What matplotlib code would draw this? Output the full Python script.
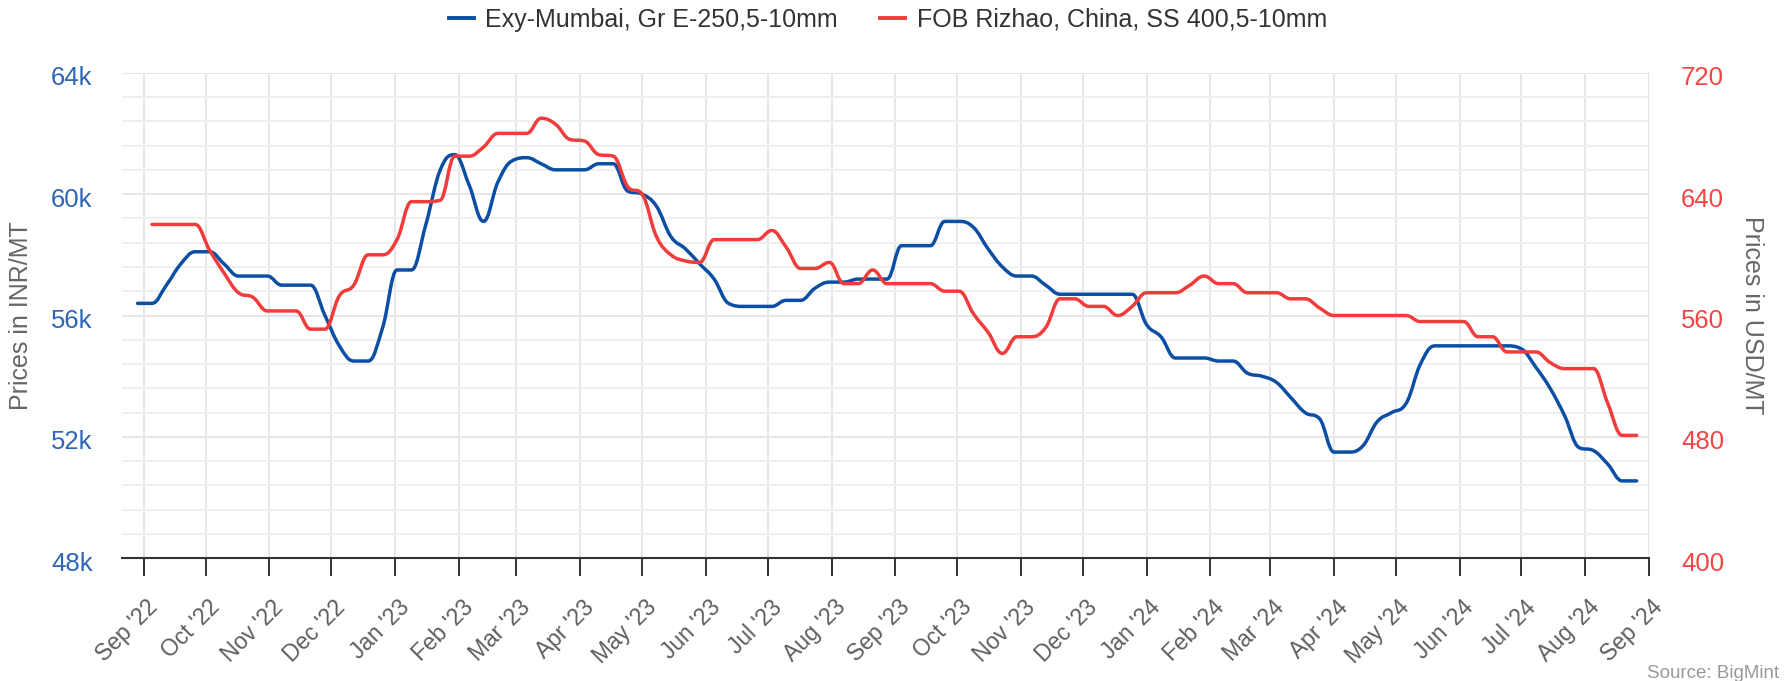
import numpy as np
import pandas as pd
import matplotlib
matplotlib.use('Agg')
import matplotlib.pyplot as plt
import matplotlib.dates as mdates
from matplotlib.path import Path
from matplotlib.patches import PathPatch
from matplotlib.lines import Line2D
from matplotlib.ticker import MultipleLocator, FuncFormatter
from matplotlib.transforms import ScaledTranslation

plt.rcParams['font.family'] = ['Liberation Sans', 'DejaVu Sans']

# ---------------- data ----------------
first_week = '2022-08-29'          # weekly assessments (Mondays)
n_weeks = 105

series_names = ['Exy-Mumbai, Gr E-250,5-10mm', 'FOB Rizhao, China, SS 400,5-10mm']

# Exy-Mumbai, INR/MT (thousands), one value per week from 29 Aug 2022
mumbai_inr_k = [
    56.4, 56.4, 57.0, 57.7, 58.1, 58.1, 57.7, 57.3, 57.3, 57.3,
    57.0, 57.0, 57.0, 56.0, 55.0, 54.5, 54.5, 55.6, 57.5, 57.5,
    59.0, 60.8, 61.3, 60.3, 59.1, 60.4, 61.1, 61.2, 61.0, 60.8,
    60.8, 60.8, 61.0, 61.0, 60.1, 60.0, 59.6, 58.6, 58.2, 57.7,
    57.2, 56.4, 56.3, 56.3, 56.3, 56.5, 56.5, 56.9, 57.1, 57.1,
    57.2, 57.2, 57.2, 58.3, 58.3, 58.3, 59.1, 59.1, 58.9, 58.2,
    57.6, 57.3, 57.3, 57.0, 56.7, 56.7, 56.7, 56.7, 56.7, 56.7,
    55.7, 55.3, 54.6, 54.6, 54.6, 54.5, 54.5, 54.1, 54.0, 53.8,
    53.3, 52.8, 52.6, 51.5, 51.5, 51.7, 52.5, 52.8, 53.1, 54.4,
    55.0, 55.0, 55.0, 55.0, 55.0, 55.0, 54.9, 54.3, 53.6, 52.7,
    51.65, 51.55, 51.1, 50.55, 50.55,
]

# FOB Rizhao, USD/MT, one value per week from 5 Sep 2022
rizhao_usd = [
    620, 620, 620, 620, 603, 588, 575, 572, 563, 563,
    563, 551, 551, 573, 580, 600, 600, 610, 635, 635,
    636, 665, 665, 671, 680, 680, 680, 690, 686, 676,
    675, 666, 665, 645, 640, 612, 600, 596, 595, 610,
    610, 610, 610, 616, 605, 591, 591, 595, 581, 581,
    590, 581, 581, 581, 581, 576, 576, 561, 549, 535,
    546, 546, 552, 571, 571, 566, 566, 560, 566, 575,
    575, 575, 580, 586, 581, 581, 575, 575, 575, 571,
    571, 565, 560, 560, 560, 560, 560, 560, 556, 556,
    556, 556, 546, 546, 536, 536, 536, 529, 525, 525,
    525, 502, 481, 481,
]

left_ticks_k = [48, 52, 56, 60, 64]
right_ticks = [400, 480, 560, 640, 720]

# ---------------- helpers ----------------
def spline_path(xs, ys, smoothing=1.5):
    """Highcharts-style spline through the data points."""
    n = len(xs)
    lc = list(zip(xs, ys))
    rc = list(zip(xs, ys))
    denom = smoothing + 1
    for i in range(1, n - 1):
        x, y = xs[i], ys[i]
        lx, ly = xs[i - 1], ys[i - 1]
        nx, ny = xs[i + 1], ys[i + 1]
        lcx = (smoothing * x + lx) / denom
        lcy = (smoothing * y + ly) / denom
        rcx = (smoothing * x + nx) / denom
        rcy = (smoothing * y + ny) / denom
        corr = 0.0
        if rcx != lcx:
            corr = (rcy - lcy) * (rcx - x) / (rcx - lcx) + y - rcy
        lcy += corr
        rcy += corr
        if lcy > ly and lcy > y:
            lcy = max(ly, y); rcy = 2 * y - lcy
        elif lcy < ly and lcy < y:
            lcy = min(ly, y); rcy = 2 * y - lcy
        if rcy > ny and rcy > y:
            rcy = max(ny, y); lcy = 2 * y - rcy
        elif rcy < ny and rcy < y:
            rcy = min(ny, y); lcy = 2 * y - rcy
        lc[i] = (lcx, lcy)
        rc[i] = (rcx, rcy)
    verts = [(xs[0], ys[0])]
    codes = [Path.MOVETO]
    for i in range(1, n):
        verts += [rc[i - 1], lc[i], (xs[i], ys[i])]
        codes += [Path.CURVE4] * 3
    return Path(verts, codes)

# ---------------- figure ----------------
W, H = 1785, 681
fig = plt.figure(figsize=(W / 100, H / 100), dpi=100)
px_l, px_r, px_t, px_b = 121.7, 1649.0, 72.7, 558.3
ax = fig.add_axes([px_l / W, 1 - px_b / H, (px_r - px_l) / W, (px_b - px_t) / H])
ax2 = ax.twinx()

BLUE = '#0b4fa5'
RED = '#f23c3c'
BLUE_LBL = '#2e66b6'
RED_LBL = '#f24646'
GREY = '#666666'

dates = pd.date_range(first_week, periods=n_weeks, freq='7D')
xnum = mdates.date2num(dates)

xb = list(xnum)
yb = [v * 1000 for v in mumbai_inr_k]
xr = list(xnum[n_weeks - len(rizhao_usd):])
yr = list(rizhao_usd)

ax.add_patch(PathPatch(spline_path(xb, yb), facecolor='none', edgecolor=BLUE,
                       lw=2.5, capstyle='round', joinstyle='round', zorder=3))
ax2.add_patch(PathPatch(spline_path(xr, yr), facecolor='none', edgecolor=RED,
                        lw=2.5, capstyle='round', joinstyle='round', zorder=3))

ax.set_xlim(mdates.date2num(pd.Timestamp('2022-08-21 07:00')),
            mdates.date2num(pd.Timestamp('2024-09-01')))
ax.set_ylim(left_ticks_k[0] * 1000, left_ticks_k[-1] * 1000)
ax2.set_ylim(right_ticks[0], right_ticks[-1])

ax.xaxis.set_major_locator(mdates.MonthLocator(bymonthday=1))
ax.xaxis.set_major_formatter(mdates.DateFormatter("%b '%y"))
ax.set_yticks([v * 1000 for v in left_ticks_k])
ax.yaxis.set_minor_locator(MultipleLocator(800))
ax.yaxis.set_major_formatter(FuncFormatter(lambda v, p: f"{int(round(v / 1000))}k"))
ax2.set_yticks(right_ticks)

ax.grid(True, which='major', axis='both', color='#e6e6e6', lw=1.4, zorder=0)
ax.grid(True, which='minor', axis='y', color='#efefef', lw=1.4, zorder=0)
ax.set_axisbelow(True)

for a in (ax, ax2):
    for s in ('top', 'left', 'right', 'bottom'):
        a.spines[s].set_visible(False)
ax.spines['bottom'].set_visible(True)
ax.spines['bottom'].set_color('#333333')
ax.spines['bottom'].set_linewidth(1.5)

ax.tick_params(axis='x', which='major', length=13, width=1.4, color='#333333',
               labelsize=16.5, labelcolor='#5e5e5e', pad=14)
ax.tick_params(axis='y', which='both', length=0, labelsize=18.5, labelcolor=BLUE_LBL, pad=21)
ax2.tick_params(axis='y', which='both', length=0, labelsize=18.5, labelcolor=RED_LBL, pad=23)

xoff = ScaledTranslation(2.5 / 100, 0, fig.dpi_scale_trans)
for lbl in ax.get_xticklabels():
    lbl.set_rotation(45)
    lbl.set_ha('right')
    lbl.set_rotation_mode('anchor')
    lbl.set_transform(lbl.get_transform() + xoff)

off = ScaledTranslation(0, -3 / 100, fig.dpi_scale_trans)
for lbl in ax.get_yticklabels() + ax2.get_yticklabels():
    lbl.set_transform(lbl.get_transform() + off)

# axis titles
yc = 1 - ((px_t + px_b) / 2) / H
fig.text(20.5 / W, yc, 'Prices in INR/MT', rotation=90, ha='center', va='center',
         fontsize=18, color=GREY)
fig.text(1752 / W, yc, 'Prices in USD/MT', rotation=270, ha='center', va='center',
         fontsize=18, color=GREY)

# legend
handles = [Line2D([], [], color=BLUE, lw=2.8), Line2D([], [], color=RED, lw=2.8)]
fig.legend(handles, series_names, loc='center', bbox_to_anchor=(0.4975, 1 - 19.5 / H),
           ncol=2, frameon=False, fontsize=18, handlelength=1.0, handletextpad=0.45,
           columnspacing=1.7, labelcolor='#333333')

# credits
fig.text(1779 / W, 1 - 673 / H, 'Source: BigMint', ha='right', va='center',
         fontsize=13.5, color='#999999')

fig.savefig('out.png', dpi=100)
